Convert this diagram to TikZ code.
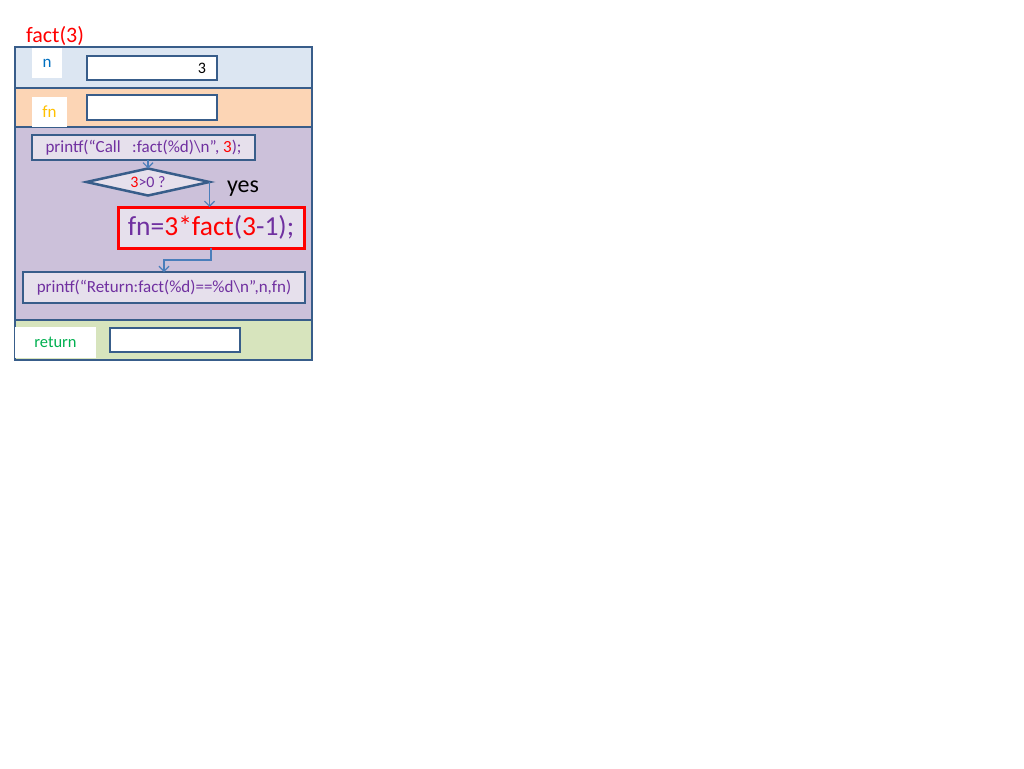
\documentclass[tikz,border=0pt]{standalone}
\usepackage{fontspec}
\setmainfont{Carlito}
\usetikzlibrary{arrows.meta,shapes.geometric,positioning}
\definecolor{frameblue}{RGB}{56,93,138}
\definecolor{arrowblue}{RGB}{74,126,187}
\definecolor{rowblue}{RGB}{220,230,242}
\definecolor{rowpeach}{RGB}{252,213,181}
\definecolor{rowlilac}{RGB}{204,193,218}
\definecolor{rowgreen}{RGB}{215,228,189}
\definecolor{boxlilac}{RGB}{230,224,236}
\definecolor{codepurple}{RGB}{112,48,160}
\definecolor{varblue}{RGB}{0,112,192}
\definecolor{varyellow}{RGB}{255,192,0}
\definecolor{vargreen}{RGB}{0,176,80}

\begin{document}
\begin{tikzpicture}[
        x=1pt, y=-1pt,
        every node/.style={inner sep=0pt, outer sep=0pt, anchor=north west},
        every path/.style={line width=1.2pt},
        row/.style={draw=frameblue, line width=2.5pt, minimum width=297pt},
        field/.style={draw=frameblue, line width=2.5pt, fill=white, minimum width=130pt},
        varname/.style={fill=white, font=\fontsize{17}{20}\selectfont},
        code/.style={draw=frameblue, line width=2.5pt, fill=boxlilac, text=codepurple},
        decision/.style={draw=frameblue, line width=2.5pt, fill=boxlilac, diamond, aspect=6, anchor=center,
            text=codepurple, font=\fontsize{16}{18}\selectfont},
        flow/.style={draw=arrowblue, -{Straight Barb[length=5pt,width=10pt]}}
    ]
    \useasboundingbox (0,0) rectangle (1024,768);

    % Frame rows
    \node (nrow)   [row, fill=rowblue,   minimum height=41pt]  at (15,47)  {};
    \node (fnrow)  [row, fill=rowpeach,  minimum height=39pt]  at (15,88)  {};
    \node (body)   [row, fill=rowlilac,  minimum height=193pt] at (15,127) {};
    \node (retrow) [row, fill=rowgreen,  minimum height=40pt]  at (15,320) {};

    \node (title) [text=red, font=\fontsize{22}{26}\selectfont, anchor=west] at (26,36) {fact(3)};

    % Variables
    \node (nlab)  [varname, text=varblue, minimum width=30pt, minimum height=30pt] at (32,48) {n};
    \node (nval)  [field, minimum height=24pt] at (87,56) {};
    \node (nnum)  [font=\fontsize{16}{19}\selectfont, anchor=east] at (nval.east) [xshift=-11pt] {3};
    \node (fnlab) [varname, text=varyellow, minimum width=35pt, minimum height=30pt] at (32,97) {fn};
    \node (fnval) [field, minimum height=25pt] at (87,95) {};
    \node (retlab) [varname, text=vargreen, font=\fontsize{16.5}{19}\selectfont,
        minimum width=81pt, minimum height=31pt] at (15,327) {return};
    \node (retval) [field, minimum height=24pt] at (110,328) {};

    % Statements
    \node (callp) [code, font=\fontsize{17}{20}\selectfont, minimum width=223pt, minimum height=25pt] at (32,135)
        {printf(“Call\ \ \ :fact(\%d)\textbackslash n”, \textcolor{red}{3});};
    \node (cond) [decision, minimum width=123pt, minimum height=27pt] at (148,182)
        {\textcolor{red}{3}>0 ?};
    \node (yes) [font=\fontsize{24}{28}\selectfont, anchor=center] at (243,189) {yes};
    \node (rec) [code, draw=red, line width=3pt, font=\fontsize{27.5}{32}\selectfont,
        minimum width=186pt, minimum height=41pt] at (118,207)
        {fn=\textcolor{red}{3*fact}(\textcolor{red}{3}-1);};
    \node (retp) [code, font=\fontsize{17}{20}\selectfont, minimum width=282pt, minimum height=31pt] at (23,272)
        {printf(“Return:fact(\%d)==\%d\textbackslash n”,n,fn)};

    % Edges
    \draw[flow] (cond.north |- callp.south) -- (cond.north);
    \draw[flow] (cond.east) -- (cond.east |- rec.north);
    \draw[flow] (rec.south) -- ++(0,12) -| (retp.north);

\end{tikzpicture}
\end{document}
